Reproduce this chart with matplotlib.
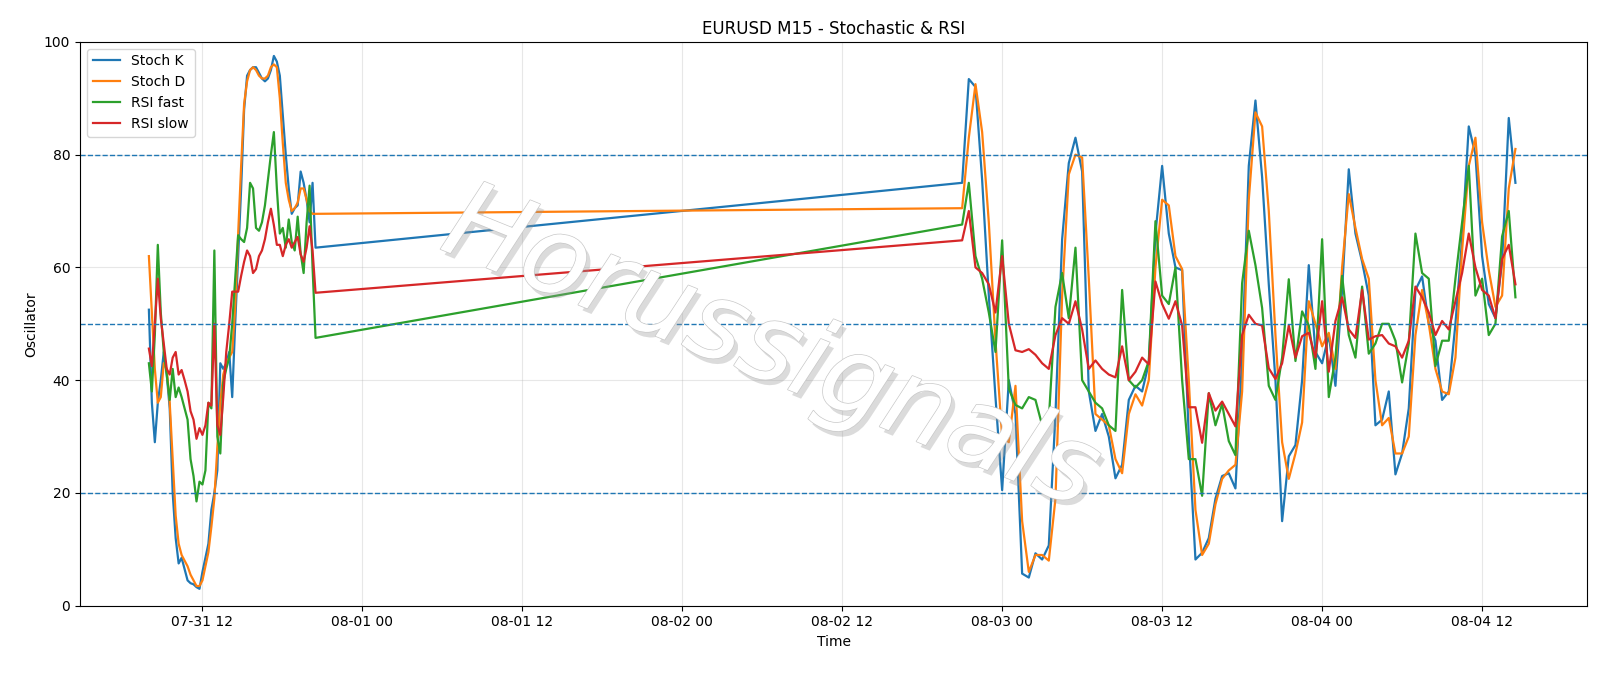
import matplotlib
matplotlib.use("Agg")
import matplotlib.pyplot as plt
import matplotlib.dates as mdates
import matplotlib.patheffects as pe
import numpy as np
import pandas as pd

# Segment 1 (07-31)
k1 = [52.5, 36, 29, 36, 40, 45, 41, 35, 20, 12, 7.5, 8.5, 6.5, 4.5, 4, 3.8, 3.3, 3, 6, 8.5,
      11, 17, 20, 24, 43, 42, 43, 45, 37, 50, 62, 74, 88, 94, 95, 95.5, 95.5, 94.5, 93.5, 93,
      93.5, 95, 97.5, 96.5, 94, 87, 80, 74, 69.5, 70.5, 71, 77, 75, 72, 68, 75, 63.5]
d1 = [62, 52, 42, 36, 37, 43, 42, 36, 26, 16, 11, 9, 8, 7, 5.5, 4.5, 3.5, 3.5, 4.5, 7,
      9.5, 14, 19, 28, 36, 41, 43, 44, 45, 53, 66, 78, 89, 93, 95, 95.5, 95, 94, 93.5, 93.5,
      94, 95.5, 96, 95.5, 90, 82, 75, 72, 70, 70.5, 71.5, 74, 74, 72, 70, 69.5, 69.5]
rf1 = [43, 38, 48, 64, 52, 45, 41, 36.5, 42, 37, 38.7, 37, 35, 33, 26, 23, 18.5, 22, 21.5, 24,
       36, 35, 63, 30, 27, 39.6, 42, 44, 50, 58, 65.7, 65, 64.5, 67, 75, 74, 67, 66.5, 68, 71,
       75.5, 80, 84, 74, 66, 67, 63.5, 68.5, 64.5, 63, 69, 62.5, 59, 68, 74.5, 60, 47.5]
rs1 = [45.6, 42.5, 50, 58, 51, 46.5, 42, 41, 44, 45, 41, 41.8, 40, 38, 34.5, 33, 29.6, 31.5, 30.3, 32,
       36, 35.5, 50, 32, 30.3, 37, 45, 50, 55.7, 55.7, 55.7, 58.5, 61, 63, 62, 59, 59.7, 62, 63, 65,
       68, 70.4, 67.5, 64, 64, 62, 64, 65, 63.5, 64.5, 65.4, 62.3, 61, 63.5, 67.3, 63, 55.5]

# Segment 2 (08-02 21:00 .. 08-04 14:30)
k2 = [75, 93.4, 92, 75.5, 55, 37, 20.5, 40, 34, 5.7, 5, 9.3, 8.2, 10.7, 34, 65, 78.5, 83, 77, 38,
      31, 34, 30, 22.6, 25, 36.5,
      39, 38, 43, 66, 78, 66, 60, 59.5, 30, 8.2, 9.4, 12, 19, 23, 23.5, 20.8, 44, 78, 89.6, 76,
      57, 40, 15, 26.5, 28.5, 40, 60.4, 45,
      43, 48, 39, 56, 77.4, 66, 61, 55, 32, 33, 38, 23.3, 27, 35, 56, 58.4,
      50, 47, 36.5, 38, 50, 65, 85, 80, 62, 53.5, 51, 61, 86.5, 75]
d2 = [70.5, 83, 92.5, 84, 68, 47, 30, 29, 39, 15, 6, 9, 9, 8, 19, 55, 76.5, 80, 79.5, 58,
      34, 33, 32, 26, 23.5, 34,
      37.5, 35.5, 40, 60, 72, 71, 62, 59.7, 40, 17, 9, 11, 18, 22.5, 24, 25, 38, 72, 87.5, 85,
      70, 48, 29, 22.5, 27, 32.5, 54, 50,
      46, 48.4, 42, 60, 73, 67, 61.5, 58, 40, 32, 33.3, 27, 27, 30, 48, 56,
      50, 42, 38, 37.5, 44, 63, 78, 83, 68, 59.5, 53, 55, 74, 81]
rf2 = [67.6, 75, 62, 58, 52, 45, 64.8, 38.5, 35.6, 35, 37, 36.5, 32, 33, 53, 59, 51, 63.5, 40, 38,
       36, 35, 32, 31, 56, 40,
       38.7, 40, 43.4, 68.2, 55, 53.5, 60, 40, 26, 26, 19.5, 37.7, 32, 35.8, 29.2, 26.7, 57.2, 66.5, 60.4, 52.8,
       39, 36.5, 44, 57.9, 43.4, 52.2, 49.7, 42,
       65, 37, 44, 58.5, 48, 44, 56.6, 44.7, 46.5, 50, 50, 47, 39.6, 46.5, 66, 59,
       58, 42.5, 47, 47, 58, 68, 78, 55, 58, 48, 50, 65.5, 70, 54.7]
rs2 = [64.8, 70, 60, 59, 57, 52, 62, 50, 45.3, 45, 45.5, 44.5, 43, 42, 48, 51, 50, 54, 49, 42,
       43.5, 42, 41, 40.5, 46, 40,
       41.5, 44, 42.8, 57.5, 53.5, 50.9, 54, 49.7, 35.2, 35.2, 28.9, 37.7, 34.6, 36.2, 34, 31.8, 48, 51.6, 50, 49.7,
       42.1, 40.2, 43, 49.7, 44, 47.8, 48.4, 44,
       54, 41.5, 50.5, 54.7, 49, 47.5, 56, 47.2, 47.8, 48, 46.5, 46, 44, 47, 56.6, 54.7,
       52, 48, 50.5, 49, 54, 59, 66, 60, 56, 55, 51, 61.5, 64, 57]

t1 = pd.date_range("2025-07-31 08:00", "2025-07-31 20:30", periods=len(k1))
t2 = pd.date_range("2025-08-02 21:00", periods=len(k2), freq="30min")
t = t1.append(t2)
stoch_k = k1 + k2
stoch_d = d1 + d2
rsi_fast = rf1 + rf2
rsi_slow = rs1 + rs2

fig = plt.figure(figsize=(16, 6.86), dpi=100)
ax = fig.add_axes([0.05, 0.117, 0.942, 0.822])
ax.plot(t, stoch_k, color="C0", lw=1.6, label="Stoch K")
ax.plot(t, stoch_d, color="C1", lw=1.6, label="Stoch D")
ax.plot(t, rsi_fast, color="C2", lw=1.6, label="RSI fast")
ax.plot(t, rsi_slow, color="C3", lw=1.6, label="RSI slow")
for lv in (20, 50, 80):
    ax.axhline(lv, color="C0", ls="--", lw=1.0)
ax.set_ylim(0, 100)
ax.set_xlim(pd.Timestamp("2025-07-31 02:50"), pd.Timestamp("2025-08-04 19:53"))
ax.xaxis.set_major_locator(mdates.HourLocator(byhour=[0, 12]))
ax.xaxis.set_major_formatter(mdates.DateFormatter("%m-%d %H"))
ax.grid(True, alpha=0.3)
ax.set_title("EURUSD M15 - Stochastic & RSI", fontsize=12)
ax.set_xlabel("Time")
ax.set_ylabel("Oscillator")
ax.legend(loc="upper left")
fig.text(0.482, 0.49, "Horussignals", fontsize=78, color="white", rotation=-22,
         ha="center", va="center", style="italic", fontweight="light",
         path_effects=[pe.withSimplePatchShadow(offset=(3, -4), shadow_rgbFace="#999999", alpha=0.35),
                       pe.Stroke(linewidth=1.0, foreground="#c8c8c8"), pe.Normal()],
         zorder=0)
fig.savefig("out.png", dpi=100)
